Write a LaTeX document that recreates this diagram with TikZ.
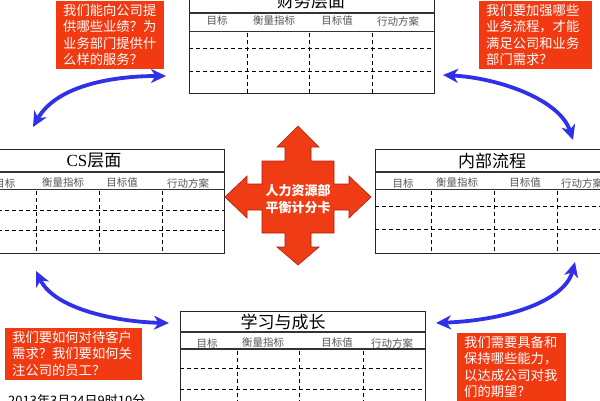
\documentclass[tikz,border=0pt]{standalone}
\usepackage{fontspec}
\newfontfamily\cjk{Noto Sans CJK SC}
\newfontfamily\serifcs{Liberation Serif}
\usetikzlibrary{arrows.meta}
\definecolor{callred}{RGB}{242,58,18}
\definecolor{crossred}{RGB}{240,60,20}
\definecolor{crossedge}{RGB}{170,30,10}
\definecolor{arrowblue}{RGB}{48,48,232}
\definecolor{headgray}{RGB}{85,85,85}
\tikzset{
 tbl/.style={draw=black!85, line width=0.9pt},
 titleline/.style={draw=black!80, line width=1.4pt},
 headline/.style={draw=black!80, line width=1pt},
 dsh/.style={draw=black, line width=0.8pt, dash pattern=on 4pt off 3pt},
 ttl/.style={font=\cjk\fontsize{17}{17}\selectfont, inner sep=0pt},
 hdr/.style={font=\cjk\fontsize{10.5}{11}\selectfont, text=headgray, inner sep=0pt},
 callout/.style={fill=callred, text=white, font=\cjk\fontsize{13.3}{16.5}\selectfont, align=left, inner xsep=7pt, inner ysep=3pt},
 barrow/.style={draw=arrowblue, line width=3.8pt, {Stealth[length=15pt,width=14pt,inset=4.5pt]}-{Stealth[length=15pt,width=14pt,inset=4.5pt]}},
 crossstyle/.style={fill=crossred, draw=crossedge, line width=0.6pt, line join=miter},
}
\begin{document}
\begin{tikzpicture}[x=1pt,y=-1pt]
\useasboundingbox (0,0) rectangle (600,400);
\fill[white] (0,0) rectangle (600,400);

% ---------- top table ----------
\draw[tbl] (189,-12) rectangle (434,93);
\draw[titleline] (189,13) -- (434,13);
\draw[headline] (189,31) -- (434,31);
\foreach \y in {48,71} \draw[dsh] (189,\y) -- (434,\y);
\foreach \x in {247,309,372} \draw[dsh] (\x,33) -- (\x,93);
\node[ttl] (tFin) at (311,1) {财务层面};
\node[hdr] (hF1) at (217,21) {目标};
\node[hdr] (hF2) at (274,21) {衡量指标};
\node[hdr] (hF3) at (337,21) {目标值};
\node[hdr] (hF4) at (398,21) {行动方案};

% ---------- CS table ----------
\draw[tbl] (-30,149) rectangle (224,253);
\draw[titleline] (-30,172) -- (224,172);
\draw[headline] (-30,189) -- (224,189);
\foreach \y in {210,230} \draw[dsh] (-30,\y) -- (224,\y);
\foreach \x in {36,99,162} \draw[dsh] (\x,191) -- (\x,253);
\node[ttl] (tCS) at (94,161) {{\serifcs CS}层面};
\node[hdr] (hC1) at (5,183) {目标};
\node[hdr] (hC2) at (63,183) {衡量指标};
\node[hdr] (hC3) at (122,183) {目标值};
\node[hdr] (hC4) at (188,183) {行动方案};

% ---------- internal process table ----------
\draw[tbl] (375,149) rectangle (640,253);
\draw[titleline] (375,172) -- (640,172);
\draw[headline] (375,189) -- (640,189);
\foreach \y in {206,229} \draw[dsh] (375,\y) -- (640,\y);
\foreach \x in {431,494,557} \draw[dsh] (\x,191) -- (\x,253);
\node[ttl] (tIn) at (492,161) {内部流程};
\node[hdr] (hI1) at (403,183) {目标};
\node[hdr] (hI2) at (457,183) {衡量指标};
\node[hdr] (hI3) at (525,183) {目标值};
\node[hdr] (hI4) at (582,183) {行动方案};

% ---------- learning table ----------
\draw[tbl] (180,311) rectangle (425,412);
\draw[titleline] (180,332) -- (425,332);
\draw[headline, line width=1.6pt] (180,349) -- (425,349);
\foreach \y in {368,389} \draw[dsh] (180,\y) -- (425,\y);
\foreach \x in {237,299,363} \draw[dsh] (\x,351) -- (\x,412);
\node[ttl] (tLe) at (283,322) {学习与成长};
\node[hdr] (hL1) at (207,343) {目标};
\node[hdr] (hL2) at (263,343) {衡量指标};
\node[hdr] (hL3) at (337,343) {目标值};
\node[hdr] (hL4) at (392,343) {行动方案};

% ---------- centre cross ----------
\coordinate (ctr) at (298,197);
\begin{scope}[shift={(ctr)}]
\draw[crossstyle] (0,-71) -- (21,-50) -- (13,-50) -- (13,-36) -- (36,-36) -- (36,-13)
  -- (51,-13) -- (51,-21) -- (73,0) -- (51,21) -- (51,13) -- (36,13) -- (36,36)
  -- (13,36) -- (13,50) -- (21,50) -- (0,68) -- (-21,50) -- (-13,50) -- (-13,36)
  -- (-36,36) -- (-36,13) -- (-51,13) -- (-51,21) -- (-73,0) -- (-51,-21) -- (-51,-13)
  -- (-36,-13) -- (-36,-36) -- (-13,-36) -- (-13,-50) -- (-21,-50) -- cycle;
\end{scope}
\node[font=\cjk\bfseries\fontsize{13}{17}\selectfont, text=white, align=center, inner sep=0pt] (hrbsc) at (298,199.5) {人力资源部\\平衡计分卡};

% ---------- callouts ----------
\node[callout, text width=94pt, anchor=south west] (cTL) at (56,69)
  {我们能向公司提\\供哪些业绩？为\\业务部门提供什\\么样的服务？};
\node[callout, text width=99pt, anchor=south west] (cTR) at (479,69)
  {我们要加强哪些\\业务流程，才能\\满足公司和业务\\部门需求？};
\node[callout, text width=123pt, anchor=north west] (cBL) at (5,328)
  {我们要如何对待客户\\需求？我们要如何关\\注公司的员工？};
\node[callout, text width=95pt, anchor=north west] (cBR) at (457,333)
  {我们需要具备和\\保持哪些能力，\\以达成公司对我\\们的期望？};

\node[font=\cjk\fontsize{13}{13}\selectfont, anchor=north west, inner sep=0pt] (date) at (8,394) {2013年3月24日9时10分};

% ---------- blue arrows ----------
\coordinate (a1s) at (33,127);
\coordinate (a1e) at (166,76);
\coordinate (a2s) at (443,75);
\coordinate (a2e) at (573,140);
\coordinate (a3s) at (36,271);
\coordinate (a3e) at (169,323);
\coordinate (a4s) at (436,323);
\coordinate (a4e) at (575,262);
\draw[barrow] (a1s) .. controls (58,83) and (120,76) .. (a1e);
\draw[barrow] (a2s) .. controls (500,78) and (560,100) .. (a2e);
\draw[barrow] (a3s) .. controls (55,310) and (120,322) .. (a3e);
\draw[barrow] (a4s) .. controls (510,320) and (565,300) .. (a4e);
\end{tikzpicture}
\end{document}
